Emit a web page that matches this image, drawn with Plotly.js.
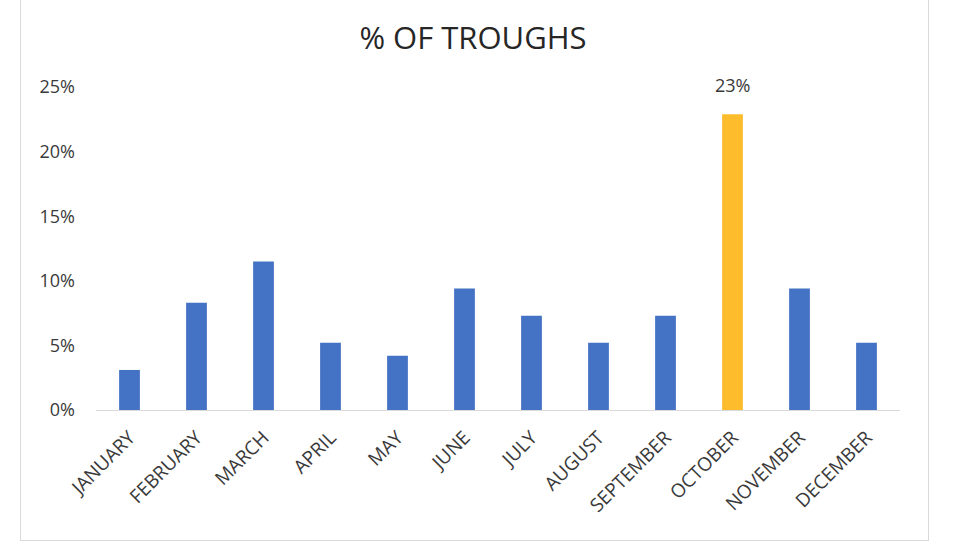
<!DOCTYPE html>
<html>
<head>
<meta charset="utf-8">
<script src="https://cdn.plot.ly/plotly-3.0.1.min.js"></script>
<style>
  html, body { margin: 0; padding: 0; background: #fff; }
  #frame { position: absolute; left: 20px; top: -2px; width: 907px; height: 541px; border: 1px solid #d9d9d9; }
  #chart { position: absolute; left: 0; top: 0; width: 954px; height: 548px; }
</style>
</head>
<body>
<div id="frame"></div>
<div id="chart"></div>
<script>
const months = ['JANUARY', 'FEBRUARY', 'MARCH', 'APRIL', 'MAY', 'JUNE', 'JULY',
                'AUGUST', 'SEPTEMBER', 'OCTOBER', 'NOVEMBER', 'DECEMBER'];
// share of troughs per month, in percent
const troughPct = [3.1, 8.3, 11.5, 5.2, 4.2, 9.4, 7.3, 5.2, 7.3, 22.9, 9.4, 5.2];
const highlightMonth = 'OCTOBER';

const blue = '#4472C4';
const gold = '#FCBC2C';
const textGrey = '#3a3a3a';

let hi = months.indexOf(highlightMonth);
let barColors = months.map(m => m === highlightMonth ? gold : blue);

let trace = {
    type: 'bar',
    x: months,
    y: troughPct,
    marker: { color: barColors },
    hoverinfo: 'x+y'
};

let layout = {
    width: 954,
    height: 548,
    paper_bgcolor: 'rgba(0,0,0,0)',
    plot_bgcolor: 'rgba(0,0,0,0)',
    margin: { l: 96, r: 54, t: 87, b: 138 },
    bargap: 0.69,
    showlegend: false,
    font: { family: 'Open Sans', color: textGrey },
    title: {
        text: '% OF TROUGHS',
        font: { family: 'Open Sans', size: 31, color: '#262626' },
        x: 473 / 954,
        xref: 'container',
        xanchor: 'center',
        y: 1 - 38 / 548,
        yref: 'container',
        yanchor: 'middle'
    },
    xaxis: {
        type: 'category',
        tickangle: -45,
        tickfont: { size: 19, color: textGrey },
        showgrid: false,
        showline: true,
        linecolor: '#d9d9d9',
        linewidth: 1,
        ticks: '',
        ticklabelstandoff: 8,
        automargin: false
    },
    yaxis: {
        range: [0, 25],
        dtick: 5,
        ticksuffix: '%',
        tickfont: { size: 18, color: textGrey },
        showgrid: false,
        zeroline: false,
        showline: false,
        ticks: '',
        ticklabelstandoff: 20,
        automargin: false
    },
    annotations: [{
        x: months[hi],
        y: troughPct[hi],
        xref: 'x',
        yref: 'y',
        text: Math.round(troughPct[hi]) + '%',
        showarrow: false,
        yanchor: 'bottom',
        yshift: 15,
        font: { family: 'Open Sans', size: 18, color: textGrey }
    }]
};

Plotly.newPlot('chart', [trace], layout, { displayModeBar: false });
</script>
</body>
</html>
